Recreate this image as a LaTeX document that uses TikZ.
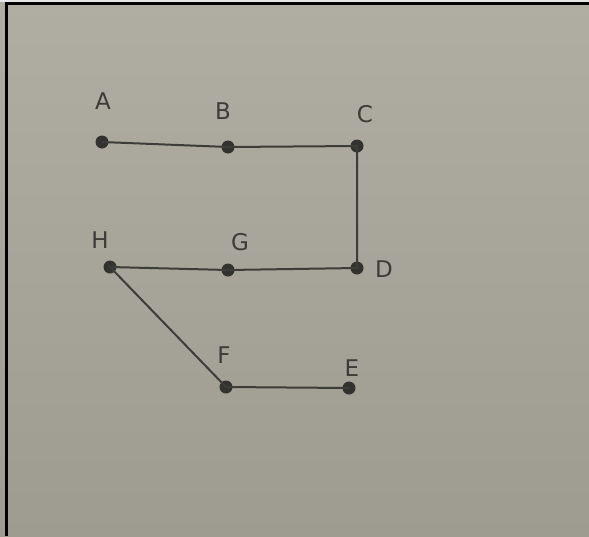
\documentclass[tikz,border=0pt]{standalone}
\usepackage{fontspec}
\setmainfont{DejaVu Sans}
\definecolor{ink}{RGB}{50,50,47}
\definecolor{pen}{RGB}{60,60,56}
\tikzset{
  dot/.style={circle,fill=ink,inner sep=0pt,minimum size=13pt},
  lbl/.style={text=pen,font=\fontsize{23}{27}\selectfont,inner sep=0pt},
  edge/.style={draw=pen,line width=2pt}
}
\begin{document}
\begin{tikzpicture}[x=1pt,y=-1pt]
\shade[top color={rgb,255:red,176;green,174;blue,163},bottom color={rgb,255:red,158;green,156;blue,145}] (0,0) rectangle (589,536);
\useasboundingbox (0,0) rectangle (589,536);
\fill[white!90!black] (0,0) rectangle (589,2);
\draw[black,line width=3pt] (6,536) -- (6,3.5) -- (589,3.5);
\node[dot] (A) at (102,142) {};
\node[dot] (B) at (228,147) {};
\node[dot] (C) at (357,146) {};
\node[dot] (H) at (110,267) {};
\node[dot] (G) at (228,270) {};
\node[dot] (D) at (357,268) {};
\node[dot] (F) at (226,387) {};
\node[dot] (E) at (349,388) {};
\node[lbl] (lA) at (103,101) {A};
\node[lbl] (lB) at (223,111) {B};
\node[lbl] (lC) at (365,114) {C};
\node[lbl] (lH) at (100,240) {H};
\node[lbl] (lG) at (240,242) {G};
\node[lbl] (lD) at (384,269) {D};
\node[lbl] (lF) at (224,355) {F};
\node[lbl] (lE) at (352,368) {E};
\draw[edge] (A.center) -- (B.center) -- (C.center) -- (D.center) -- (G.center) -- (H.center) -- (F.center) -- (E.center);
\end{tikzpicture}
\end{document}
